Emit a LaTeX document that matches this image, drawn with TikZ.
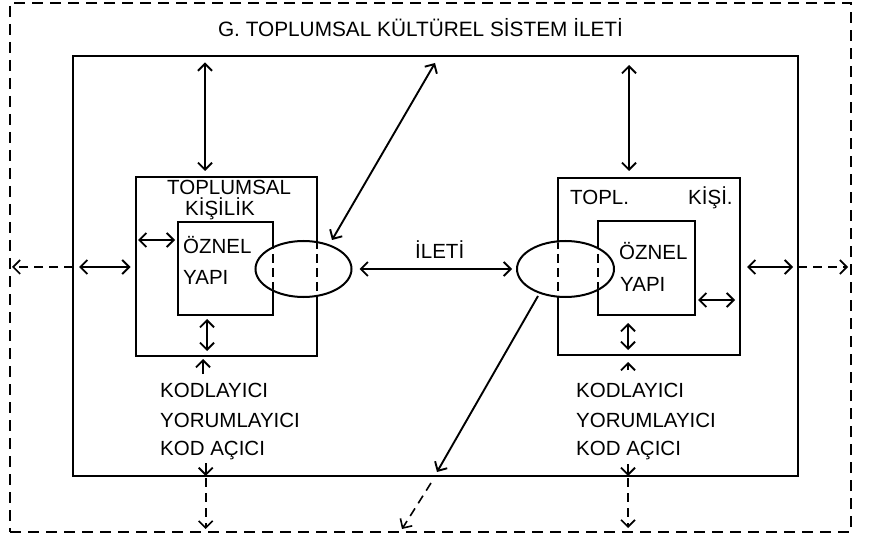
\documentclass[tikz,border=0pt]{standalone}
\usepackage{fontspec}
\setmainfont{Liberation Sans}
\usetikzlibrary{arrows.meta}
\tikzset{
  ln/.style={line width=2pt},
  box/.style={draw, ln, inner sep=0pt, outer sep=0pt},
  envbox/.style={draw, line width=1.5pt, dash pattern=on 11pt off 7pt, inner sep=0pt, outer sep=0pt},
  ell/.style={draw, ln, fill=white, ellipse, inner sep=0pt, outer sep=0pt},
  txt/.style={inner sep=0pt, anchor=base west, font=\fontsize{20.5}{24}\selectfont},
  hd/.tip={Straight Barb[length=7pt,width=14pt]},
  dbl/.style={line width=1.9pt, hd-hd},
  one/.style={line width=1.9pt, -hd},
  dsh/.style={line width=1.6pt, dash pattern=on 9pt off 6pt, -hd},
}
\usetikzlibrary{shapes.geometric}
\begin{document}
\begin{tikzpicture}[x=1pt,y=-1pt]
\useasboundingbox (0,0) rectangle (870,537);
% frames
\node[envbox, minimum width=841pt, minimum height=529pt] (env) at (430.5,267.5) {};
\node[box, minimum width=725pt, minimum height=420pt] (sys) at (435.5,266) {};
\node[box, minimum width=181pt, minimum height=179pt] (lbox) at (226,266.5) {};
\node[box, minimum width=95pt, minimum height=93pt] (linner) at (225.5,268.5) {};
\node[box, minimum width=182pt, minimum height=177pt] (rbox) at (649,266.5) {};
\node[box, minimum width=97pt, minimum height=94.5pt] (rinner) at (646.5,268.25) {};
\node[ell, minimum width=96pt, minimum height=56pt] (lell) at (303.5,269) {};
\node[ell, minimum width=97pt, minimum height=56pt] (rell) at (565.5,269) {};
\begin{scope}
  \clip (303.5,269) ellipse [x radius=47pt, y radius=27pt];
  \draw[ln, dash pattern=on 9pt off 5pt] (273,240) -- (273,298);
  \draw[ln, dash pattern=on 9pt off 5pt] (316.5,240) -- (316.5,298);
\end{scope}
\begin{scope}
  \clip (565.5,269) ellipse [x radius=47.5pt, y radius=27pt];
  \draw[ln, dash pattern=on 9pt off 5pt] (558,240) -- (558,298);
  \draw[ln, dash pattern=on 9pt off 5pt] (598,240) -- (598,298);
\end{scope}
% texts
\node[txt, anchor=base, font=\fontsize{20.8}{24}\selectfont] (title) at (420.5,37) {G. TOPLUMSAL KÜLTÜREL SİSTEM İLETİ};
\node[txt] (ltop1) at (167,195) {TOPLUMSAL};
\node[txt] (ltop2) at (185,216) {KİŞİLİK};
\node[txt] (lo1) at (183,254) {ÖZNEL};
\node[txt] (lo2) at (183,285) {YAPI};
\node[txt] (ileti) at (415,259) {İLETİ};
\node[txt] (rtop1) at (570,205) {TOPL.};
\node[txt] (rtop2) at (688,205) {KİŞİ.};
\node[txt] (ro1) at (619,260) {ÖZNEL};
\node[txt] (ro2) at (620,291) {YAPI};
\node[txt] (lk1) at (160,397) {KODLAYICI};
\node[txt] (lk2) at (160,427) {YORUMLAYICI};
\node[txt] (lk3) at (160,455) {KOD AÇICI};
\node[txt] (rk1) at (576,397) {KODLAYICI};
\node[txt] (rk2) at (576,427) {YORUMLAYICI};
\node[txt] (rk3) at (576,455) {KOD AÇICI};
% helper coordinates
\coordinate (cl1) at (205,0);
\coordinate (cr1) at (629,0);
\coordinate (cl2) at (207,0);
\coordinate (cl3) at (203,0);
\coordinate (cl4) at (205.7,0);
\coordinate (cr2) at (628,0);
\coordinate (row) at (0,267);
\coordinate (lrow2) at (0,240);
\coordinate (rrow2) at (0,300);
\coordinate (d1a) at (435,63);
\coordinate (d1b) at (332,240);
\coordinate (d2a) at (538,296);
\coordinate (d2b) at (437,472);
\coordinate (d2c) at (431,483);
\coordinate (d2d) at (402,529);
\coordinate (lup) at (203,374);
\coordinate (rup) at (628,370);
\coordinate (ldn) at (205.7,463);
\coordinate (rdn) at (628,464);
% arrows
\draw[dbl, shorten <=6.5pt, shorten >=6pt] (sys.north -| cl1) -- (lbox.north -| cl1);
\draw[dbl, shorten <=9pt, shorten >=7pt] (sys.north -| cr1) -- (rbox.north -| cr1);
\draw[dbl] (d1a) -- (d1b);
\draw[dbl, shorten <=8pt, shorten >=5pt] (lell.east) -- (rell.west);
\draw[dbl, shorten <=6pt, shorten >=5pt] (sys.west |- row) -- (lbox.west |- row);
\draw[dsh, shorten >=2pt] (sys.west |- row) -- (env.west |- row);
\draw[dbl, shorten <=2.5pt, shorten >=3pt] (lbox.west |- lrow2) -- (linner.west |- lrow2);
\draw[dbl, shorten <=4pt, shorten >=5pt] (linner.south -| cl2) -- (lbox.south -| cl2);
\draw[one, shorten >=3pt] (lup) -- (lbox.south -| cl3);
\draw[one] (ldn) -- (sys.south -| cl4);
\draw[dsh, shorten <=2pt, shorten >=3pt] (sys.south -| cl4) -- (env.south -| cl4);
\draw[dbl, shorten <=7.5pt, shorten >=5pt] (rinner.south -| cr2) -- (rbox.south -| cr2);
\draw[one, shorten >=7pt] (rup) -- (rbox.south -| cr2);
\draw[one] (rdn) -- (sys.south -| cr2);
\draw[dsh, shorten <=2pt, shorten >=4pt] (sys.south -| cr2) -- (env.south -| cr2);
\draw[dbl, shorten <=3pt, shorten >=5pt] (rinner.east |- rrow2) -- (rbox.east |- rrow2);
\draw[dbl, shorten <=7pt, shorten >=5pt] (rbox.east |- row) -- (sys.east |- row);
\draw[dsh, shorten >=3pt] (sys.east |- row) -- (env.east |- row);
\draw[one] (d2a) -- (d2b);
\draw[dsh] (d2c) -- (d2d);
\end{tikzpicture}
\end{document}
